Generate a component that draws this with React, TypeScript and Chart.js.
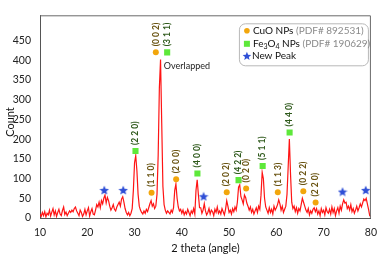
import React, { useEffect, useRef } from "react";
import { Chart, registerables } from "chart.js";

Chart.register(...registerables);

// 2θ grid: 10° to 80° in 0.25° steps
const thetaStart = 10;
const thetaStep = 0.25;

// intensity (counts), 4 readings per degree
const intensity = [
  10, 4, 14, 6, // 10
  16, 3, 12, 8, // 11
  20, 5, 15, 24, // 12
  8, 18, 4, 14, // 13
  22, 10, 6, 19, // 14
  28, 9, 15, 6, // 15
  12, 18, 14, 20, // 16
  16, 24, 28, 18, // 17
  12, 6, 20, 14, // 18
  4, 10, 22, 8, // 19
  18, 26, 5, 16, // 20
  24, 10, 8, 20, // 21
  34, 28, 40, 26, // 22
  44, 36, 50, 58, // 23
  38, 52, 44, 30, // 24
  20, 26, 34, 22, // 25
  18, 28, 34, 40, // 26
  30, 48, 54, 40, // 27
  24, 14, 8, 14, // 28
  6, 12, 24, 70, // 29
  140, 158, 120, 60, // 30
  30, 20, 14, 10, // 31
  18, 12, 22, 16, // 32
  26, 36, 44, 30, // 33
  36, 24, 30, 60, // 34
  160, 330, 402, 240, // 35
  80, 34, 20, 12, // 36
  18, 14, 10, 20, // 37
  14, 26, 70, 86, // 38
  50, 28, 18, 22, // 39
  12, 20, 8, 16, // 40
  10, 22, 14, 6, // 41
  18, 12, 24, 10, // 42
  70, 97, 60, 26, // 43
  26, 12, 20, 36, // 44
  18, 8, 14, 24, // 45
  10, 20, 16, 6, // 46
  22, 14, 28, 12, // 47
  18, 10, 24, 16, // 48
  8, 22, 44, 30, // 49
  14, 20, 10, 24, // 50
  16, 28, 20, 40, // 51
  78, 84, 54, 46, // 52
  36, 58, 52, 38, // 53
  30, 20, 28, 14, // 54
  22, 10, 18, 26, // 55
  14, 30, 22, 58, // 56
  116, 100, 50, 28, // 57
  20, 12, 26, 14, // 58
  22, 10, 30, 20, // 59
  26, 34, 46, 36, // 60
  20, 30, 14, 22, // 61
  30, 60, 130, 200, // 62
  110, 40, 24, 30, // 63
  16, 26, 12, 24, // 64
  18, 34, 50, 40, // 65
  30, 20, 14, 24, // 66
  8, 18, 12, 22, // 67
  26, 16, 24, 10, // 68
  18, 6, 24, 14, // 69
  20, 8, 26, 16, // 70
  12, 22, 10, 28, // 71
  14, 24, 6, 18, // 72
  26, 12, 30, 20, // 73
  36, 46, 38, 40, // 74
  24, 30, 20, 34, // 75
  16, 24, 12, 20, // 76
  30, 18, 26, 36, // 77
  28, 38, 48, 44, // 78
  50, 36, 22, 6, // 79
  4, // 80
];

// CuO markers (PDF# 892531)
const cuoX = [34.5, 33.6, 38.8, 49.5, 53.6, 60.3, 65.7, 68.3];
const cuoY = [420, 64, 98, 65, 75, 65, 68, 39];
const cuoLabels = ["(0 0 2)", "(1 1 0)", "(2 0 0)", "(2 0 2)", "(0 2 0)", "(1 1 3)", "(0 2 2)", "(2 2 0)"];

// Fe3O4 markers (PDF# 190629)
const feX = [36.9, 30.2, 43.3, 52.0, 57.1, 62.8];
const feY = [420, 170, 113, 96, 132, 217];
const feLabels = ["(3 1 1)", "(2 2 0)", "(4 0 0)", "(4 2 2)", "(5 1 1)", "(4 4 0)"];

// New peaks
const starX = [23.6, 27.6, 44.6, 74.0, 78.9];
const starY = [71, 71, 55, 67, 71];

const xTicks = [10, 20, 30, 40, 50, 60, 70, 80];
const yTicks = [0, 50, 100, 150, 200, 250, 300, 350, 400, 450];

const FONT = "Lato, 'Open Sans', sans-serif";
const RED = "#ff1414";
const ORANGE = "#f2a60c";
const GREEN = "#5ee83a";
const BLUE = "#2f4fd6";
const CUO_TXT = "#6a5412";
const FE_TXT = "#2f5a1c";

function starPath(ctx: CanvasRenderingContext2D, cx: number, cy: number, R: number) {
  const r = R * 0.45;
  ctx.beginPath();
  for (let i = 0; i < 10; i++) {
    const rad = i % 2 === 0 ? R : r;
    const a = -Math.PI / 2 + (i * Math.PI) / 5;
    const px = cx + rad * Math.cos(a);
    const py = cy + rad * Math.sin(a);
    if (i === 0) ctx.moveTo(px, py);
    else ctx.lineTo(px, py);
  }
  ctx.closePath();
}

function makeStar(size: number) {
  const c = document.createElement("canvas");
  c.width = size;
  c.height = size;
  const ctx = c.getContext("2d")!;
  ctx.fillStyle = BLUE;
  starPath(ctx, size / 2, size / 2 + 0.5, size / 2);
  ctx.fill();
  return c;
}

const annotationPlugin = {
  id: "xrdAnnotations",
  afterDatasetsDraw(chart: any) {
    const { ctx, chartArea, scales } = chart;
    const xs = scales.x;
    const ys = scales.y;
    ctx.save();
    // frame (top + right)
    ctx.strokeStyle = "#6a6a6a";
    ctx.lineWidth = 1;
    ctx.beginPath();
    ctx.moveTo(chartArea.left, chartArea.top + 0.5);
    ctx.lineTo(chartArea.right - 0.5, chartArea.top + 0.5);
    ctx.lineTo(chartArea.right - 0.5, chartArea.bottom);
    ctx.stroke();

    // rotated hkl labels
    ctx.font = `bold 8.5px ${FONT}`;
    ctx.textBaseline = "middle";
    ctx.textAlign = "left";
    const drawLabel = (x: number, y: number, t: string, color: string) => {
      const px = xs.getPixelForValue(x);
      const py = ys.getPixelForValue(y);
      ctx.save();
      ctx.translate(px, py - 6);
      ctx.rotate(-Math.PI / 2);
      ctx.fillStyle = color;
      ctx.fillText(t, 0, 0);
      ctx.restore();
    };
    cuoX.forEach((x, i) => drawLabel(x, cuoY[i], cuoLabels[i], CUO_TXT));
    feX.forEach((x, i) => drawLabel(x, feY[i], feLabels[i], FE_TXT));

    // Overlapped note
    ctx.font = `9px ${FONT}`;
    ctx.fillStyle = "#222";
    ctx.fillText("Overlapped", xs.getPixelForValue(36.2), ys.getPixelForValue(386));

    // legend box
    const bx = chartArea.right - 132;
    const by = chartArea.top + 8;
    const bw = 129;
    const bh = 42;
    ctx.beginPath();
    ctx.roundRect(bx + 0.5, by + 0.5, bw, bh, 6);
    ctx.fillStyle = "#fff";
    ctx.fill();
    ctx.strokeStyle = "#b8b8b8";
    ctx.stroke();

    const mx = bx + 8;
    const tx = bx + 14;
    const rows = [by + 7.5, by + 20.5, by + 32.5];
    ctx.textBaseline = "middle";
    // row 1
    ctx.fillStyle = ORANGE;
    ctx.beginPath();
    ctx.arc(mx, rows[0], 2.8, 0, Math.PI * 2);
    ctx.fill();
    ctx.font = `10px ${FONT}`;
    ctx.fillStyle = "#111";
    ctx.fillText("CuO NPs", tx, rows[0]);
    let w = ctx.measureText("CuO NPs ").width;
    ctx.fillStyle = "#8a8a8a";
    ctx.fillText("(PDF# 892531)", tx + w, rows[0]);
    // row 2
    ctx.fillStyle = GREEN;
    ctx.fillRect(mx - 3, rows[1] - 3, 6, 6);
    let cx = tx;
    const seg = (t: string, size: number, dy: number, color: string) => {
      ctx.font = `${size}px ${FONT}`;
      ctx.fillStyle = color;
      ctx.fillText(t, cx, rows[1] + dy);
      cx += ctx.measureText(t).width;
    };
    seg("Fe", 10, 0, "#111");
    seg("3", 7, 2.5, "#111");
    seg("O", 10, 0, "#111");
    seg("4", 7, 2.5, "#111");
    seg(" NPs ", 10, 0, "#111");
    seg("(PDF# 190629)", 10, 0, "#8a8a8a");
    // row 3
    ctx.fillStyle = BLUE;
    starPath(ctx, mx, rows[2] + 0.5, 4.5);
    ctx.fill();
    ctx.font = `10px ${FONT}`;
    ctx.fillStyle = "#111";
    ctx.fillText("New Peak", tx - 1, rows[2]);

    // axis titles
    ctx.font = `11px ${FONT}`;
    ctx.fillStyle = "#111";
    ctx.textAlign = "center";
    ctx.textBaseline = "middle";
    ctx.fillText("2 theta (angle)", (chartArea.left + chartArea.right) / 2, 248);
    ctx.save();
    ctx.translate(10, 122);
    ctx.rotate(-Math.PI / 2);
    ctx.fillText("Count", 0, 0);
    ctx.restore();
    ctx.restore();
  },
};

export default function App() {
  const ref = useRef<HTMLCanvasElement | null>(null);
  useEffect(() => {
    document.body.style.margin = "0";
    const star = makeStar(10);
    const lineData = intensity.map((v, i) => ({ x: thetaStart + i * thetaStep, y: v }));
    const chart = new Chart(ref.current!, {
      type: "line",
      data: {
        datasets: [
          {
            label: "XRD",
            data: lineData,
            borderColor: RED,
            borderWidth: 1.2,
            pointRadius: 0,
            tension: 0,
            order: 5,
          },
          {
            label: "CuO",
            data: cuoX.map((x, i) => ({ x, y: cuoY[i] })),
            showLine: false,
            pointStyle: "circle",
            pointRadius: 3,
            pointBackgroundColor: ORANGE,
            pointBorderWidth: 0,
            order: 1,
          },
          {
            label: "Fe3O4",
            data: feX.map((x, i) => ({ x, y: feY[i] })),
            showLine: false,
            pointStyle: "rect",
            pointRadius: 4.3,
            pointBackgroundColor: GREEN,
            pointBorderWidth: 0,
            order: 1,
          },
          {
            label: "New",
            data: starX.map((x, i) => ({ x, y: starY[i] })),
            showLine: false,
            pointStyle: star as any,
            pointRadius: 5,
            order: 1,
          },
        ],
      },
      options: {
        animation: false,
        responsive: false,
        events: [],
        layout: { padding: { top: 2, right: 6, left: 0, bottom: 0 } },
        plugins: { legend: { display: false }, tooltip: { enabled: false } },
        scales: {
          x: {
            type: "linear",
            min: 10,
            max: 80,
            afterFit: (s: any) => {
              s.height = 38;
            },
            afterBuildTicks: (s: any) => {
              s.ticks = xTicks.map((v) => ({ value: v }));
            },
            grid: { display: false, drawTicks: false },
            border: { display: true, color: "#555", width: 1 },
            ticks: { padding: 8, color: "#222", font: { family: FONT, size: 10.5 } },
          },
          y: {
            type: "linear",
            min: 0,
            max: 514,
            afterFit: (s: any) => {
              s.width = 40;
            },
            afterBuildTicks: (s: any) => {
              s.ticks = yTicks.map((v) => ({ value: v }));
            },
            grid: { display: false, drawTicks: false },
            border: { display: true, color: "#555", width: 1 },
            ticks: { padding: 9, color: "#222", font: { family: FONT, size: 10.5 } },
          },
        },
      },
      plugins: [annotationPlugin],
    });
    return () => chart.destroy();
  }, []);
  return (
    <div style={{ width: 385, height: 256, background: "#fff" }}>
      <canvas ref={ref} width={385} height={256} style={{ display: "block" }} />
    </div>
  );
}
